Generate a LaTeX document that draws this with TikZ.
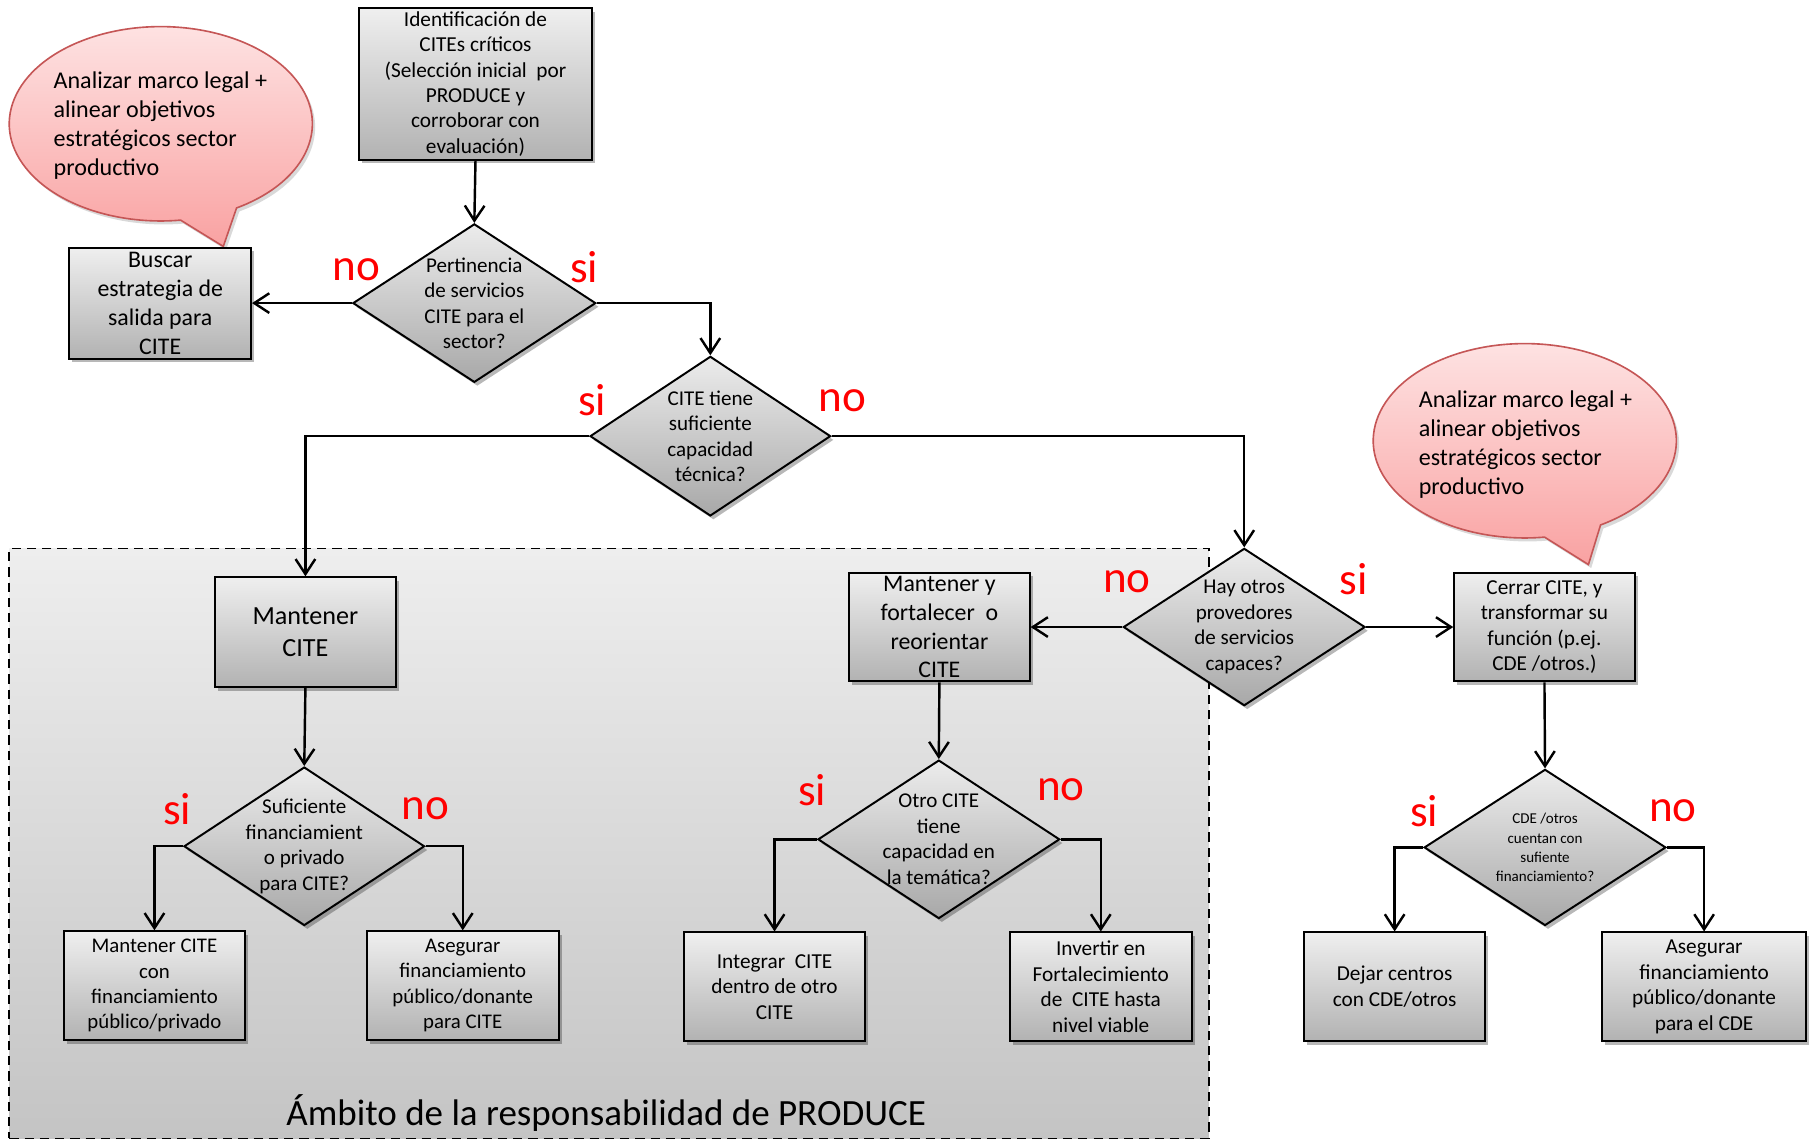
\documentclass[tikz,border=0pt]{standalone}
\usepackage{fontspec}
\setmainfont{Carlito}
\usetikzlibrary{shapes.geometric,arrows.meta,shadows}
\definecolor{boxtop}{HTML}{EFEFEF}
\definecolor{boxbot}{HTML}{B2B2B2}
\definecolor{dectop}{HTML}{ECECEC}
\definecolor{decbot}{HTML}{A8A8A8}
\definecolor{regtop}{HTML}{EEEEEE}
\definecolor{regbot}{HTML}{C4C4C4}
\definecolor{bubtop}{HTML}{FEE6E6}
\definecolor{bubbot}{HTML}{F9A2A2}
\definecolor{bubline}{HTML}{C55656}
\begin{document}
\begin{tikzpicture}[x=0.5pt,y=-0.5pt,
  shad/.style={drop shadow={shadow xshift=1.3pt,shadow yshift=-1.6pt,opacity=0.28,fill=black}},
  box/.style={draw=black,line width=0.85pt,rectangle,top color=boxtop,bottom color=boxbot,
    align=center,inner sep=0pt,font=\fontsize{9}{11}\selectfont,shad},
  bigbox/.style={box,font=\fontsize{10.3}{12.5}\selectfont},
  dec/.style={draw=black,line width=0.85pt,diamond,top color=dectop,bottom color=decbot,
    align=center,inner sep=-14pt,font=\fontsize{9.1}{11}\selectfont,shad},
  lab/.style={text=red,font=\fontsize{19.5}{22}\selectfont,inner sep=0pt},
  arr/.style={line width=1.05pt,-{Straight Barb[length=6.5pt,width=8.5pt]}},
  bubble/.style={draw=bubline,line width=0.7pt,top color=bubtop,bottom color=bubbot,
    drop shadow={shadow xshift=1.2pt,shadow yshift=-1.5pt,opacity=0.15,fill=black}},
  bubtext/.style={align=left,inner sep=0pt,font=\fontsize{10.4}{12.5}\selectfont},
  region/.style={draw=black,line width=0.7pt,dash pattern=on 4pt off 2.6pt,
    top color=regtop,bottom color=regbot,inner sep=0pt}
]
\useasboundingbox (0,0) rectangle (1568,986);
\fill[white] (0,0) rectangle (1568,986);

% responsibility area
\node[region,minimum width=518.5pt,minimum height=255pt] (area) at (526.5,729) {};
\node[inner sep=0pt,font=\fontsize{16}{19}\selectfont] (amb) at (524,962) {Ámbito de la responsabilidad de PRODUCE};

% speech bubbles
\coordinate (bc1) at (139,107);
\path[bubble] ([shift={(bc1)}]60:131 and 84) arc[start angle=60,end angle=-277.5,x radius=131,y radius=84] -- (193,213) -- cycle;
\node[bubtext,anchor=west] (bt1) at (46,108.5) {Analizar marco legal +\\alinear objetivos\\estratégicos sector\\productivo};

\coordinate (bc2) at (1318,381);
\path[bubble] ([shift={(bc2)}]60:131 and 84) arc[start angle=60,end angle=-277.5,x radius=131,y radius=84] -- (1373,488) -- cycle;
\node[bubtext,anchor=west] (bt2) at (1226,384) {Analizar marco legal +\\alinear objetivos\\estratégicos sector\\productivo};

% boxes and decisions
\node[box,font=\fontsize{9.2}{11}\selectfont,minimum width=101pt,minimum height=65.5pt] (t1) at (411,72.5)
  {Identificación de\\CITEs críticos\\(Selección inicial~ por\\PRODUCE y\\corroborar con\\evaluación)};
\node[bigbox,minimum width=78.5pt,minimum height=48pt] (buscar) at (138.5,262)
  {Buscar\\estrategia de\\salida para\\CITE};
\node[dec,minimum width=105pt,minimum height=68.5pt] (d1) at (410,262)
  {Pertinencia\\de servicios\\CITE para el\\sector?};
\node[dec,minimum width=104pt,minimum height=69pt] (d2) at (614,377)
  {CITE tiene\\suficiente\\capacidad\\técnica?};
\node[box,font=\fontsize{11.3}{13.5}\selectfont,minimum width=78pt,minimum height=47.5pt] (mc) at (264,546.5)
  {Mantener\\CITE};
\node[dec,minimum width=104pt,minimum height=68.5pt] (d4) at (263,731.5)
  {Suficiente\\financiamient\\o privado\\para CITE?};
\node[box,minimum width=78.5pt,minimum height=47pt] (b1) at (133.5,852)
  {Mantener CITE\\con\\financiamiento\\público/privado};
\node[box,minimum width=83pt,minimum height=47pt] (b2) at (400,852)
  {Asegurar\\financiamiento\\público/donante\\para CITE};
\node[bigbox,minimum width=78pt,minimum height=47pt] (my) at (812,542)
  {Mantener y\\fortalecer~ o\\reorientar\\CITE};
\node[dec,minimum width=104.5pt,minimum height=68pt] (d3) at (1075.5,542)
  {Hay otros\\provedores\\de servicios\\capaces?};
\node[dec,minimum width=104.5pt,minimum height=68.5pt] (d5) at (811.5,725.5)
  {Otro CITE\\tiene\\capacidad en\\la temática?};
\node[box,font=\fontsize{9.2}{11}\selectfont,minimum width=78.5pt,minimum height=47pt] (b3) at (669.5,853)
  {Integrar~ CITE\\dentro de otro\\CITE};
\node[box,font=\fontsize{9.2}{11}\selectfont,minimum width=78.5pt,minimum height=47pt] (b4) at (951.5,853)
  {Invertir en\\Fortalecimiento\\de~ CITE hasta\\nivel viable};
\node[box,font=\fontsize{9.2}{11}\selectfont,minimum width=78pt,minimum height=47pt] (cerrar) at (1335,542)
  {Cerrar CITE, y\\transformar su\\función (p.ej.\\CDE /otros.)};
\node[dec,font=\fontsize{6.5}{8.3}\selectfont,minimum width=104.5pt,minimum height=67.5pt] (d6) at (1335.5,732.5)
  {CDE /otros\\cuentan con\\sufiente\\financiamiento?};
\node[box,font=\fontsize{9.2}{11}\selectfont,minimum width=78.5pt,minimum height=47pt] (b5) at (1205.5,853)
  {Dejar centros\\con CDE/otros};
\node[box,font=\fontsize{9.2}{11}\selectfont,minimum width=88pt,minimum height=47pt] (b6) at (1473,853)
  {Asegurar\\financiamiento\\público/donante\\para el CDE};

% connectors
\draw[arr] (t1.south) -- (d1.north);
\draw[arr] (d1.west) -- (buscar.east);
\draw[arr] (d1.east) -| (d2.north);
\draw[arr] (d2.west) -| (mc.north);
\draw[arr] (d2.east) -| (d3.north);
\draw[arr] (mc.south) -- (d4.north);
\draw[arr] (d4.west) -| (b1.north);
\draw[arr] (d4.east) -| (b2.north);
\draw[arr] (d3.west) -- (my.east);
\draw[arr] (d3.east) -- (cerrar.west);
\draw[arr] (my.south) -- (d5.north);
\draw[arr] (d5.west) -| (b3.north);
\draw[arr] (d5.east) -| (b4.north);
\draw[arr] (cerrar.south) -- (d6.north);
\draw[arr] (d6.west) -| (b5.north);
\draw[arr] (d6.east) -| (b6.north);

% yes / no labels
\node[lab] (l1) at (308,233) {no};
\node[lab] (l2) at (505,231) {si};
\node[lab] (l3) at (512,346) {si};
\node[lab] (l4) at (728,346) {no};
\node[lab] (l5) at (974,503) {no};
\node[lab] (l6) at (1170,501) {si};
\node[lab] (l7) at (153,699) {si};
\node[lab] (l8) at (368,699) {no};
\node[lab] (l9) at (702,683) {si};
\node[lab] (l10) at (917,683) {no};
\node[lab] (l11) at (1231,701) {si};
\node[lab] (l12) at (1446,701) {no};
\end{tikzpicture}
\end{document}
